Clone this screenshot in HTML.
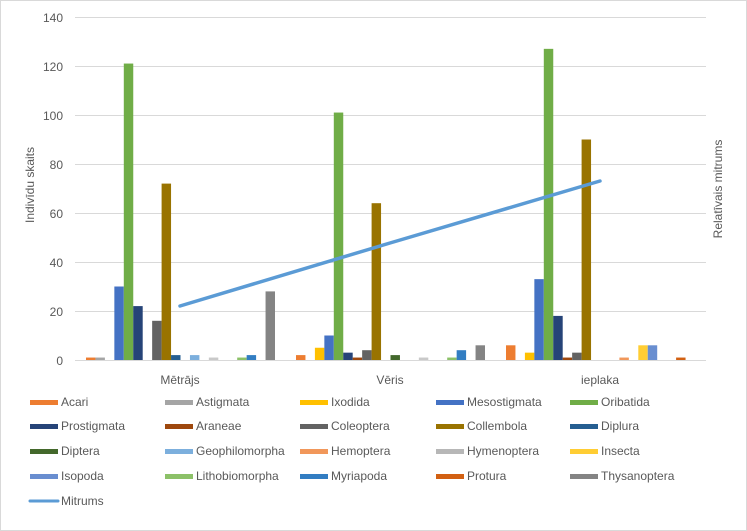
<!DOCTYPE html>
<html><head><meta charset="utf-8"><style>
body{margin:0;background:#fff}
svg{display:block;font-family:"Liberation Sans",sans-serif}
</style></head><body>
<svg width="747" height="531" viewBox="0 0 747 531" xmlns="http://www.w3.org/2000/svg">
<rect x="0.5" y="0.5" width="746" height="530" fill="#fff" stroke="#d9d9d9"/>
<g stroke="#d9d9d9" stroke-width="1">
<line x1="75" x2="706" y1="17.5" y2="17.5"/>
<line x1="75" x2="706" y1="66.5" y2="66.5"/>
<line x1="75" x2="706" y1="115.5" y2="115.5"/>
<line x1="75" x2="706" y1="164.5" y2="164.5"/>
<line x1="75" x2="706" y1="213.5" y2="213.5"/>
<line x1="75" x2="706" y1="262.5" y2="262.5"/>
<line x1="75" x2="706" y1="311.5" y2="311.5"/>
<line x1="75" x2="706" y1="360.5" y2="360.5"/>
</g>
<g fill="#595959" font-size="12" text-anchor="end">
<text x="63" y="22">140</text><text x="63" y="71">120</text><text x="63" y="120">100</text>
<text x="63" y="169">80</text><text x="63" y="218">60</text><text x="63" y="267">40</text>
<text x="63" y="316">20</text><text x="63" y="365">0</text>
</g>
<text transform="translate(34,185) rotate(-90)" font-size="12" fill="#595959" text-anchor="middle">Indivīdu skaits</text>
<text transform="translate(722,189) rotate(-90)" font-size="12" fill="#595959" text-anchor="middle">Relatīvais mitrums</text>
<g fill="#595959" font-size="12" text-anchor="middle">
<text x="180" y="384">Mētrājs</text><text x="390" y="384">Vēris</text><text x="600" y="384">ieplaka</text>
</g>
<g>
<rect x="86" y="357.55" width="9.45" height="2.45" fill="#ED7D31"/>
<rect x="95.45" y="357.55" width="9.45" height="2.45" fill="#A5A5A5"/>
<rect x="114.35" y="286.5" width="9.45" height="73.5" fill="#4472C4"/>
<rect x="123.8" y="63.55" width="9.45" height="296.45" fill="#70AD47"/>
<rect x="133.25" y="306.1" width="9.45" height="53.9" fill="#264478"/>
<rect x="152.15" y="320.8" width="9.45" height="39.2" fill="#636363"/>
<rect x="161.6" y="183.6" width="9.45" height="176.4" fill="#997300"/>
<rect x="171.05" y="355.1" width="9.45" height="4.9" fill="#255E91"/>
<rect x="189.95" y="355.1" width="9.45" height="4.9" fill="#7CAFDD"/>
<rect x="208.85" y="357.55" width="9.45" height="2.45" fill="#C9C9C9"/>
<rect x="237.2" y="357.55" width="9.45" height="2.45" fill="#8CC168"/>
<rect x="246.65" y="355.1" width="9.45" height="4.9" fill="#327DC2"/>
<rect x="265.55" y="291.4" width="9.45" height="68.6" fill="#848484"/>
<rect x="296" y="355.1" width="9.45" height="4.9" fill="#ED7D31"/>
<rect x="314.9" y="347.75" width="9.45" height="12.25" fill="#FFC000"/>
<rect x="324.35" y="335.5" width="9.45" height="24.5" fill="#4472C4"/>
<rect x="333.8" y="112.55" width="9.45" height="247.45" fill="#70AD47"/>
<rect x="343.25" y="352.65" width="9.45" height="7.35" fill="#264478"/>
<rect x="352.7" y="357.55" width="9.45" height="2.45" fill="#9E480E"/>
<rect x="362.15" y="350.2" width="9.45" height="9.8" fill="#636363"/>
<rect x="371.6" y="203.2" width="9.45" height="156.8" fill="#997300"/>
<rect x="390.5" y="355.1" width="9.45" height="4.9" fill="#43682B"/>
<rect x="418.85" y="357.55" width="9.45" height="2.45" fill="#C9C9C9"/>
<rect x="447.2" y="357.55" width="9.45" height="2.45" fill="#8CC168"/>
<rect x="456.65" y="350.2" width="9.45" height="9.8" fill="#327DC2"/>
<rect x="475.55" y="345.3" width="9.45" height="14.7" fill="#848484"/>
<rect x="506" y="345.3" width="9.45" height="14.7" fill="#ED7D31"/>
<rect x="524.9" y="352.65" width="9.45" height="7.35" fill="#FFC000"/>
<rect x="534.35" y="279.15" width="9.45" height="80.85" fill="#4472C4"/>
<rect x="543.8" y="48.85" width="9.45" height="311.15" fill="#70AD47"/>
<rect x="553.25" y="315.9" width="9.45" height="44.1" fill="#264478"/>
<rect x="562.7" y="357.55" width="9.45" height="2.45" fill="#9E480E"/>
<rect x="572.15" y="352.65" width="9.45" height="7.35" fill="#636363"/>
<rect x="581.6" y="139.5" width="9.45" height="220.5" fill="#997300"/>
<rect x="619.4" y="357.55" width="9.45" height="2.45" fill="#F1975A"/>
<rect x="638.3" y="345.3" width="9.45" height="14.7" fill="#FFCD33"/>
<rect x="647.75" y="345.3" width="9.45" height="14.7" fill="#698ED0"/>
<rect x="676.1" y="357.55" width="9.45" height="2.45" fill="#D26012"/>
</g>
<polyline points="180,306 390,243 600,181" fill="none" stroke="#5B9BD5" stroke-width="3.5" stroke-linecap="round"/>
<g font-size="12" fill="#595959">
<rect x="30" y="400" width="28" height="5" fill="#ED7D31"/><text x="61" y="406">Acari</text>
<rect x="165" y="400" width="28" height="5" fill="#A5A5A5"/><text x="196" y="406">Astigmata</text>
<rect x="300" y="400" width="28" height="5" fill="#FFC000"/><text x="331" y="406">Ixodida</text>
<rect x="436" y="400" width="28" height="5" fill="#4472C4"/><text x="467" y="406">Mesostigmata</text>
<rect x="570" y="400" width="28" height="5" fill="#70AD47"/><text x="601" y="406">Oribatida</text>
<rect x="30" y="424" width="28" height="5" fill="#264478"/><text x="61" y="430">Prostigmata</text>
<rect x="165" y="424" width="28" height="5" fill="#9E480E"/><text x="196" y="430">Araneae</text>
<rect x="300" y="424" width="28" height="5" fill="#636363"/><text x="331" y="430">Coleoptera</text>
<rect x="436" y="424" width="28" height="5" fill="#997300"/><text x="467" y="430">Collembola</text>
<rect x="570" y="424" width="28" height="5" fill="#255E91"/><text x="601" y="430">Diplura</text>
<rect x="30" y="449" width="28" height="5" fill="#43682B"/><text x="61" y="455">Diptera</text>
<rect x="165" y="449" width="28" height="5" fill="#7CAFDD"/><text x="196" y="455">Geophilomorpha</text>
<rect x="300" y="449" width="28" height="5" fill="#F1975A"/><text x="331" y="455">Hemoptera</text>
<rect x="436" y="449" width="28" height="5" fill="#B7B7B7"/><text x="467" y="455">Hymenoptera</text>
<rect x="570" y="449" width="28" height="5" fill="#FFCD33"/><text x="601" y="455">Insecta</text>
<rect x="30" y="474" width="28" height="5" fill="#698ED0"/><text x="61" y="480">Isopoda</text>
<rect x="165" y="474" width="28" height="5" fill="#8CC168"/><text x="196" y="480">Lithobiomorpha</text>
<rect x="300" y="474" width="28" height="5" fill="#327DC2"/><text x="331" y="480">Myriapoda</text>
<rect x="436" y="474" width="28" height="5" fill="#D26012"/><text x="467" y="480">Protura</text>
<rect x="570" y="474" width="28" height="5" fill="#848484"/><text x="601" y="480">Thysanoptera</text>
<line x1="30" x2="58" y1="501" y2="501" stroke="#5B9BD5" stroke-width="3" stroke-linecap="round"/><text x="61" y="505">Mitrums</text>
</g>
</svg>
</body></html>
